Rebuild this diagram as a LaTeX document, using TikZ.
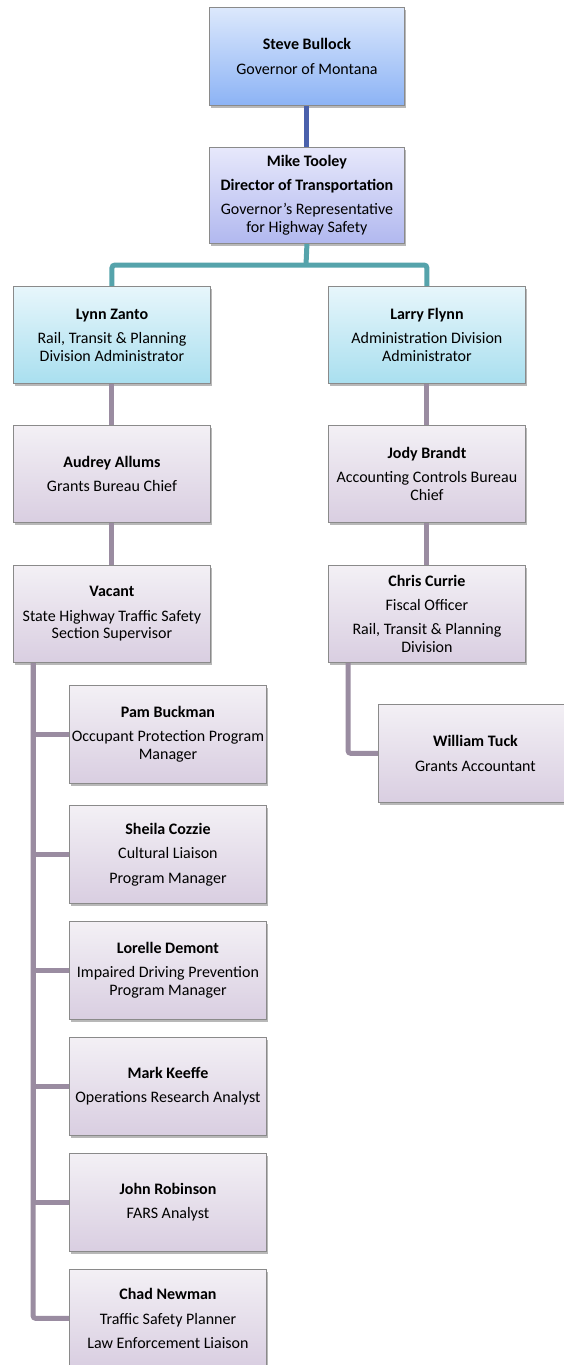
\documentclass[tikz,border=0pt]{standalone}
\usepackage{fontspec}
\setmainfont{Carlito}
\usetikzlibrary{shadows}
\definecolor{steveTop}{HTML}{DCE8FC}
\definecolor{steveBot}{HTML}{8CB3F5}
\definecolor{mikeTop}{HTML}{E7E8FB}
\definecolor{mikeBot}{HTML}{B1B8EF}
\definecolor{cyanTop}{HTML}{E7F6FB}
\definecolor{cyanBot}{HTML}{A9DFEF}
\definecolor{purTop}{HTML}{F3F0F5}
\definecolor{purBot}{HTML}{D9CEE1}
\definecolor{boxBorder}{HTML}{8A8A8A}
\definecolor{blueLine}{HTML}{4A61AC}
\definecolor{tealLine}{HTML}{55A3AB}
\definecolor{grayLine}{HTML}{9A8CA1}
\tikzset{
  box/.style={draw=boxBorder, line width=0.9pt, minimum width=197pt, minimum height=97pt,
    align=center, inner sep=0pt, anchor=north west,
    font=\fontsize{16}{17.8}\selectfont,
    drop shadow={shadow xshift=2pt, shadow yshift=-2.5pt, fill=black, opacity=0.28}},
  bluebox/.style={box, top color=steveTop, bottom color=steveBot},
  lavbox/.style={box, top color=mikeTop, bottom color=mikeBot},
  cyanbox/.style={box, top color=cyanTop, bottom color=cyanBot},
  purbox/.style={box, top color=purTop, bottom color=purBot},
  conn/.style={line width=5pt},
}
\newcommand{\nm}[1]{\textbf{#1}}
\begin{document}
\begin{tikzpicture}[x=1pt, y=-1pt]
\useasboundingbox (0,0) rectangle (564,1365);
\clip (0,0) rectangle (564,1365);
\fill[white] (0,0) rectangle (564,1365);

\node[bluebox, minimum width=195pt, minimum height=98pt] (steve) at (209,7)
  {\nm{Steve Bullock}\\[6.5pt]Governor of Montana};
\node[lavbox, minimum width=195pt, minimum height=96pt] (mike) at (209,147)
  {\nm{Mike Tooley}\\[5.5pt]\nm{Director of Transportation}\\[6.5pt]Governor’s Representative\\for Highway Safety};

\node[cyanbox] (lynn) at (13,286)
  {\nm{Lynn Zanto}\\[6.5pt]Rail, Transit \& Planning\\Division Administrator};
\node[cyanbox] (larry) at (328,286)
  {\nm{Larry Flynn}\\[6.5pt]Administration Division\\Administrator};

\node[purbox] (audrey) at (13,425)
  {\nm{Audrey Allums}\\[6.5pt]Grants Bureau Chief};
\node[purbox] (jody) at (328,425)
  {\nm{Jody Brandt}\\[6.5pt]Accounting Controls Bureau\\Chief};

\node[purbox] (vacant) at (13,565)
  {\nm{Vacant}\\[6.5pt]State Highway Traffic Safety\\Section Supervisor};
\node[purbox] (chris) at (328,565)
  {\nm{Chris Currie}\\[6.5pt]Fiscal Officer\\[6.5pt]Rail, Transit \& Planning\\Division};

\node[purbox, minimum width=194pt, minimum height=98pt] (william) at (378,704)
  {\nm{William Tuck}\\[6.5pt]Grants Accountant};

\node[purbox, minimum height=98pt] (pam) at (69,685)
  {\nm{Pam Buckman}\\[6.5pt]Occupant Protection Program\\Manager};
\node[purbox, minimum height=98pt] (sheila) at (69,805)
  {\nm{Sheila Cozzie}\\[6.5pt]Cultural Liaison\\[6.5pt]Program Manager};
\node[purbox, minimum height=98pt] (lorelle) at (69,921)
  {\nm{Lorelle Demont}\\[6.5pt]Impaired Driving Prevention\\Program Manager};
\node[purbox, minimum height=98pt] (mark) at (69,1037)
  {\nm{Mark Keeffe}\\[6.5pt]Operations Research Analyst};
\node[purbox, minimum height=98pt] (john) at (69,1153)
  {\nm{John Robinson}\\[6.5pt]FARS Analyst};
\node[purbox, minimum height=98pt] (chad) at (69,1269)
  {\nm{Chad Newman}\\[6.5pt]Traffic Safety Planner\\[6.5pt]Law Enforcement Liaison};

% connectors
\draw[conn, blueLine] (steve) -- (mike);
\coordinate (tj) at (306,265);
\draw[conn, tealLine] (mike.south) -- (tj);
\draw[conn, tealLine, rounded corners=3pt] (lynn.north) |- (tj) -| (larry.north);

\draw[conn, grayLine] (lynn) -- (audrey);
\draw[conn, grayLine] (audrey) -- (vacant);
\draw[conn, grayLine] (larry) -- (jody);
\draw[conn, grayLine] (jody) -- (chris);

\coordinate (trunk) at ([xshift=20pt]vacant.south west);
\draw[conn, grayLine] (trunk) |- (pam.west);
\draw[conn, grayLine] (trunk) |- (sheila.west);
\draw[conn, grayLine] (trunk) |- (lorelle.west);
\draw[conn, grayLine] (trunk) |- (mark.west);
\draw[conn, grayLine] (trunk) |- (john.west);
\draw[conn, grayLine, rounded corners=3pt] (trunk) |- (chad.west);

\coordinate (ctrunk) at ([xshift=20pt]chris.south west);
\draw[conn, grayLine, rounded corners=3pt] (ctrunk) |- (william.west);
\end{tikzpicture}
\end{document}
